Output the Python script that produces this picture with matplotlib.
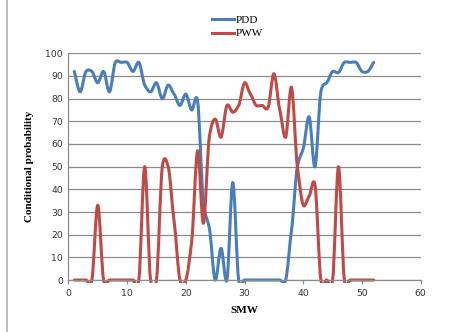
import numpy as np
import matplotlib
matplotlib.use("Agg")
import matplotlib.pyplot as plt
from matplotlib.path import Path
from matplotlib.patches import PathPatch, Rectangle
from matplotlib.lines import Line2D

# standard meteorological weeks
smw = list(range(1, 53))

pdd = [92, 83, 92, 92, 87, 92, 83, 96, 96, 96,
       92, 96, 86, 83, 87, 80, 86, 82, 77, 82,
       75, 79, 34, 23, 0, 14, 0, 43, 0, 0,
       0, 0, 0, 0, 0, 0, 0, 22, 50, 58,
       72, 50, 83, 87, 92, 91.5, 96, 96, 96, 92,
       92, 96]

pww = [0, 0, 0, 0, 33, 0, 0, 0, 0, 0,
       0, 0, 50, 0, 0, 50, 50, 26, 0, 0,
       17, 57, 25, 63, 71, 63, 77, 74, 77, 87,
       82, 77, 77, 76, 91, 75, 63, 85, 50, 33,
       37, 42, 0, 0, 0, 50, 0, 0, 0, 0,
       0, 0]

blue = '#4A7EBB'
red = '#BE4B48'


def smooth_path(x, y, k=8.0):
    # excel-like smoothed line: cubic bezier through every point
    x = np.asarray(x, float)
    y = np.asarray(y, float)
    px = np.concatenate([[x[0]], x, [x[-1]]])
    py = np.concatenate([[y[0]], y, [y[-1]]])
    verts = [(x[0], y[0])]
    codes = [Path.MOVETO]
    for i in range(1, len(px) - 2):
        c1 = (px[i] + (px[i + 1] - px[i - 1]) / 6, py[i] + (py[i + 1] - py[i - 1]) / k)
        c2 = (px[i + 1] - (px[i + 2] - px[i]) / 6, py[i + 1] - (py[i + 2] - py[i]) / k)
        verts += [c1, c2, (px[i + 1], py[i + 1])]
        codes += [Path.CURVE4] * 3
    return Path(verts, codes)


fig = plt.figure(figsize=(4.62, 3.32), dpi=100)
ax = fig.add_axes([0.148, 0.1566, 0.7626, 0.6828])

ax.set_xlim(0, 60)
ax.set_ylim(0, 100)
ax.set_xticks(range(0, 61, 10))
ax.set_yticks(range(0, 101, 10))
ax.yaxis.grid(True, color='#8c8c8c', linewidth=0.9)
ax.set_axisbelow(True)
for s in ['top', 'right']:
    ax.spines[s].set_visible(False)
for s in ['left', 'bottom']:
    ax.spines[s].set_color('#8c8c8c')
    ax.spines[s].set_linewidth(0.9)
ax.tick_params(axis='both', colors='#8c8c8c', labelcolor='#333333',
               labelsize=6.7, length=3, width=0.9, direction='out')
ax.tick_params(axis='y', length=0, pad=4)

clip = Rectangle((0, -1.2), 60, 103, transform=ax.transData)
for y, c in [(pdd, blue), (pww, red)]:
    patch = PathPatch(smooth_path(smw, y), facecolor='none', edgecolor=c,
                      linewidth=2.2, capstyle='round', joinstyle='round')
    ax.add_patch(patch)
    patch.set_clip_path(clip)

ax.set_xlabel('SMW', family='Liberation Serif', fontweight='bold', fontsize=8, labelpad=6)
ax.set_ylabel('Conditional probability', family='Liberation Serif', fontweight='bold',
              fontsize=8, labelpad=8)

handles = [Line2D([], [], color=blue, linewidth=2.2), Line2D([], [], color=red, linewidth=2.2)]
fig.legend(handles, ['PDD', 'PWW'], loc='upper left', bbox_to_anchor=(0.437, 0.985),
           frameon=False, prop={'family': 'Liberation Serif', 'size': 8},
           handlelength=2.0, handletextpad=0.1, labelspacing=0.35)

fig.add_artist(Line2D([0.015, 0.015], [0.0, 1.0], color='#b0b0b0', linewidth=1.2))

fig.savefig('out.png', dpi=100)
